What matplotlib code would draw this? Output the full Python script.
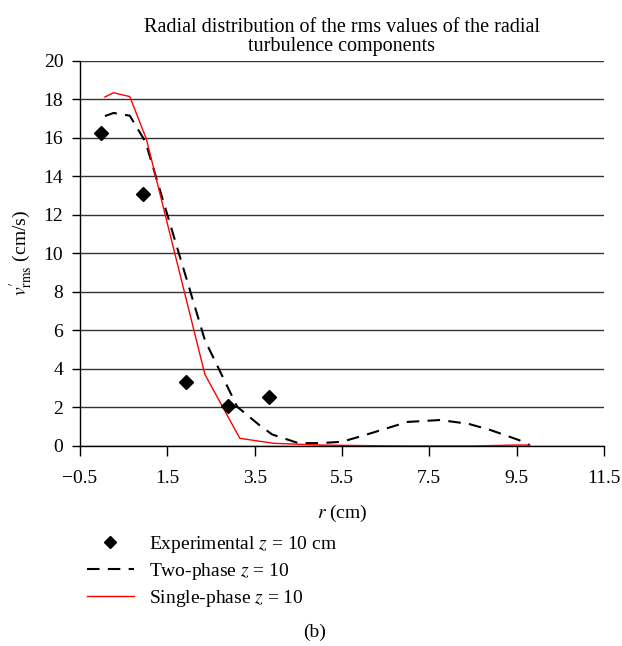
import matplotlib
matplotlib.use("Agg")
import matplotlib.pyplot as plt

# Fonte serifada parecida com a do artigo
plt.rcParams['font.family'] = ['Liberation Serif', 'DejaVu Serif']
plt.rcParams['mathtext.fontset'] = 'stix'

# Dados experimentais
r_exp = [-0.03, 0.95, 1.92, 2.9, 3.83]
v_exp = [16.25, 13.1, 3.35, 2.1, 2.57]

# Modelo bifasico (tracejado)
r_two = [0.07, 0.27, 0.64, 1.0, 2.36, 3.1, 3.6, 3.9, 4.5, 5.0, 5.5, 6.0, 6.5, 7.0, 7.75, 8.4, 8.9, 9.55, 9.8]
v_two = [17.14, 17.3, 17.16, 15.8, 5.5, 2.04, 1.1, 0.6, 0.15, 0.15, 0.22, 0.55, 0.9, 1.25, 1.35, 1.15, 0.83, 0.31, 0.05]

# Modelo monofasico (vermelho)
r_one = [0.07, 0.27, 0.64, 1.02, 2.36, 3.16, 3.93, 5.0, 6.0, 7.0, 8.5, 9.5, 9.8]
v_one = [18.13, 18.35, 18.15, 15.95, 3.72, 0.4, 0.14, 0.05, 0.02, 0.0, 0.0, 0.05, 0.05]

# Eixos
xticks = [-0.5, 1.5, 3.5, 5.5, 7.5, 9.5, 11.5]
yticks = [0, 2, 4, 6, 8, 10, 12, 14, 16, 18, 20]

fs = 14

fig = plt.figure(figsize=(6.22, 6.46), dpi=100)
ax = fig.add_axes([0.1286, 0.3096, 0.8424, 0.596])

for y in yticks:
    ax.axhline(y, color='#333333', lw=1.0, zorder=0)

ax.plot(r_exp, v_exp, 'D', color='black', markersize=7.5, label=r'Experimental $z$ = 10 cm', zorder=3)
ax.plot(r_two, v_two, color='black', lw=1.5, dashes=(6, 4), label=r'Two-phase $z$ = 10', zorder=2)
ax.plot(r_one, v_one, color='red', lw=1.0, label=r'Single-phase $z$ = 10', zorder=2)

ax.set_xlim(-0.5, 11.5)
ax.set_ylim(0, 20)
ax.set_xticks(xticks)
ax.set_xticklabels(['\u22120.5', '1.5', '3.5', '5.5', '7.5', '9.5', '11.5'])
ax.set_yticks(yticks)
ax.tick_params(axis='both', labelsize=fs, direction='out', width=1, colors='black')
ax.tick_params(axis='y', length=6, pad=6)
ax.tick_params(axis='x', length=7, pad=10)

ax.spines['top'].set_visible(False)
ax.spines['right'].set_visible(False)
ax.spines['left'].set_linewidth(1.0)
ax.spines['bottom'].set_linewidth(1.0)

ax.set_xlabel(r'$r$ (cm)', fontsize=fs, labelpad=12)
ax.set_ylabel(r"$v_{\mathrm{rms}}^{\prime}$ (cm/s)", fontsize=fs, labelpad=6)
ax.set_title('Radial distribution of the rms values of the radial\nturbulence components',
             fontsize=14.5, linespacing=1.05, pad=7)

fig.legend(loc='upper left', bbox_to_anchor=(0.14, 0.173), bbox_transform=fig.transFigure,
           frameon=False, fontsize=fs, handlelength=2.4, handletextpad=0.8, labelspacing=0.3,
           borderaxespad=0, borderpad=0, markerscale=0.75)

fig.text(0.506, 0.0217, '(b)', fontsize=fs, ha='center', va='center')

fig.savefig('out.png', dpi=100)
